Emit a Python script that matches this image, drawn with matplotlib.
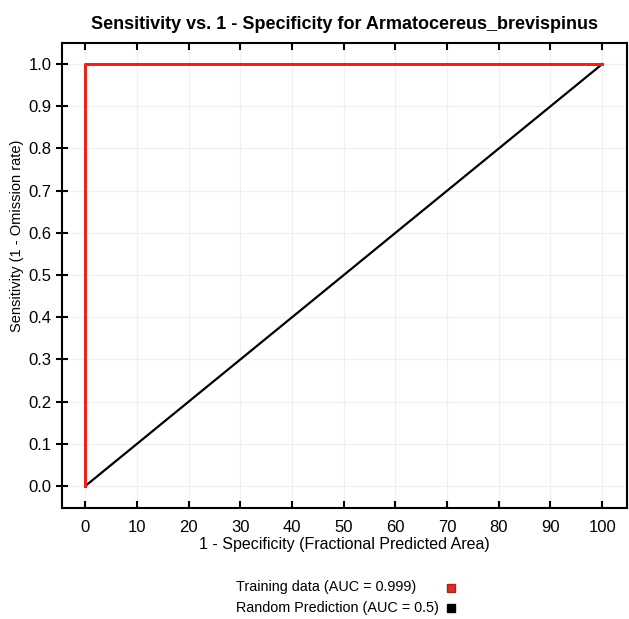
import numpy as np
import matplotlib.pyplot as plt
from matplotlib.lines import Line2D

plt.rcParams['font.family'] = ['Liberation Sans', 'DejaVu Sans']

# ROC curves (x in % of fractional predicted area)
train_x = [0, 0, 100]
train_y = [0.0, 1.0, 1.0]
random_x = [0, 100]
random_y = [0.0, 1.0]

train_label = 'Training data (AUC = 0.999)'
random_label = 'Random Prediction (AUC = 0.5)'

xticks = np.arange(0, 101, 10)
yticks = np.arange(0, 1.01, 0.1)

fig = plt.figure(figsize=(6.29, 6.19), dpi=100)
ax = fig.add_axes([62 / 629, 1 - 508 / 619, 565 / 629, 465 / 619])

ax.plot(random_x, random_y, color='black', lw=1.6)
ax.plot(train_x, train_y, color='#e8251c', lw=2.2)

ax.set_xlim(-4.5, 104.8)
ax.set_ylim(-0.052, 1.05)
ax.set_xticks(xticks)
ax.set_yticks(yticks)
ax.set_yticklabels(['{:.1f}'.format(v) for v in yticks])
ax.grid(True, color='#f0f0f0', lw=0.8)
ax.set_axisbelow(True)
ax.tick_params(axis='x', direction='in', length=5, width=1.5, labelsize=12,
               top=True, pad=9)
ax.tick_params(axis='y', direction='inout', length=8, width=1.5, labelsize=12,
               right=False)
for s in ax.spines.values():
    s.set_linewidth(1.5)

ax.set_title('Sensitivity vs. 1 - Specificity for Armatocereus_brevispinus',
             fontsize=13, fontweight='bold', pad=10)
ax.set_xlabel('1 - Specificity (Fractional Predicted Area)', fontsize=11.5, labelpad=1)
ax.set_ylabel('Sensitivity (1 - Omission rate)', fontsize=10.5)
ax.yaxis.set_label_coords(-0.067, 0.586)

# legend below the plot
fig.text(236 / 629, 1 - 587 / 619, train_label, fontsize=10.4, va='center')
fig.text(236 / 629, 1 - 608 / 619, random_label, fontsize=10.4, va='center')
fig.add_artist(Line2D([451 / 629], [1 - 588 / 619], marker='s', ms=5.5,
                      color='#d83028', mec='#a82018', transform=fig.transFigure))
fig.add_artist(Line2D([451 / 629], [1 - 608 / 619], marker='s', ms=5.5,
                      color='black', transform=fig.transFigure))

plt.savefig('out.png')
